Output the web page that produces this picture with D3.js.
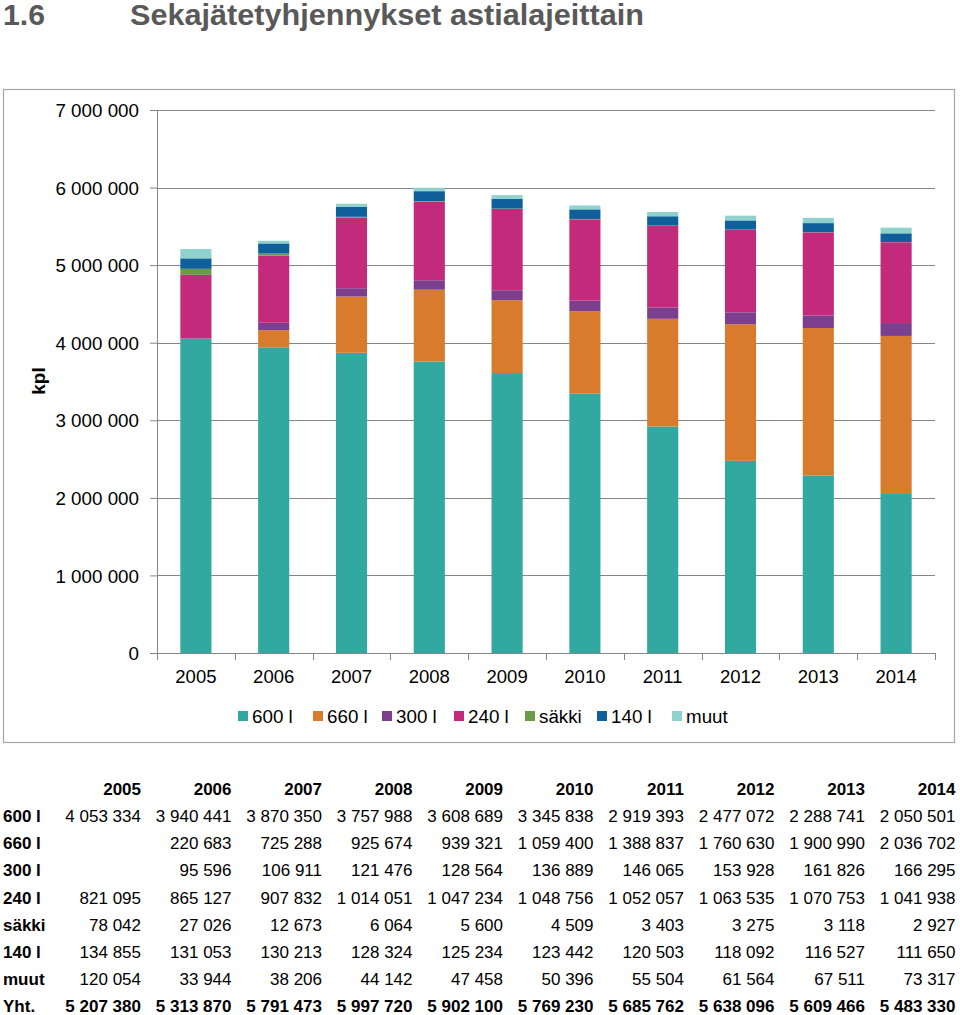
<!DOCTYPE html>
<html><head><meta charset="utf-8">
<script src="https://cdn.jsdelivr.net/npm/d3@7"></script>
<style>body{margin:0;background:#fff}svg{display:block}</style>
</head><body>
<svg id="c" width="960" height="1015"></svg>
<script>
const years = ["2005","2006","2007","2008","2009","2010","2011","2012","2013","2014"];
const seriesNames = ["600 l","660 l","300 l","240 l","säkki","140 l","muut"];
const v600 = [4053334,3940441,3870350,3757988,3608689,3345838,2919393,2477072,2288741,2050501];
const v660 = [null,220683,725288,925674,939321,1059400,1388837,1760630,1900990,2036702];
const v300 = [null,95596,106911,121476,128564,136889,146065,153928,161826,166295];
const v240 = [821095,865127,907832,1014051,1047234,1048756,1052057,1063535,1070753,1041938];
const vSakki = [78042,27026,12673,6064,5600,4509,3403,3275,3118,2927];
const v140 = [134855,131053,130213,128324,125234,123442,120503,118092,116527,111650];
const vMuut = [120054,33944,38206,44142,47458,50396,55504,61564,67511,73317];
const totals = [5207380,5313870,5791473,5997720,5902100,5769230,5685762,5638096,5609466,5483330];
const yTicks = [0,1000000,2000000,3000000,4000000,5000000,6000000,7000000];
const colors = ["#31a8a0","#d97b2c","#7b3f8e","#c42a7c","#6b9b47","#0f5f9a","#8fd1cd"];

const seriesVals = [v600,v660,v300,v240,vSakki,v140,vMuut];
const rows = years.map((y,i)=>{const o={year:y};seriesNames.forEach((s,j)=>o[s]=seriesVals[j][i]||0);return o;});
const fmt = v => v==null ? "" : d3.format(",")(v).replace(/,/g," ");

const svg = d3.select("#c");
const font = "Liberation Sans, Arial, sans-serif";

// title
svg.append("text").attr("x",3).attr("y",25).attr("font-family",font)
  .attr("font-size",29).attr("font-weight","bold").attr("fill","#595959").text("1.6")
  .attr("textLength",42).attr("lengthAdjust","spacingAndGlyphs");
svg.append("text").attr("x",130).attr("y",25).attr("font-family",font)
  .attr("font-size",29).attr("font-weight","bold").attr("fill","#595959").text("Sekajätetyhjennykset astialajeittain")
  .attr("textLength",514).attr("lengthAdjust","spacingAndGlyphs");

// chart border
svg.append("rect").attr("x",3.5).attr("y",89.5).attr("width",951).attr("height",653)
  .attr("fill","none").attr("stroke","#a6a6a6").attr("stroke-width",1.2);

const x = d3.scaleBand().domain(years).range([157,935]).paddingInner(0.6).paddingOuter(0.3);
const y = d3.scaleLinear().domain([0,7000000]).range([653,110]);

// y axis
const yAxis = d3.axisLeft(y).tickValues(yTicks).tickSize(7).tickFormat(fmt);
const gy = svg.append("g").attr("transform","translate(157,0)").call(yAxis);
gy.select(".domain").attr("stroke","#868686");
gy.selectAll(".tick line").attr("stroke","#868686");
gy.selectAll(".tick text").attr("font-family",font).attr("font-size",18.8).attr("fill","#000").attr("x",-18).attr("dy","0.35em");
svg.append("g").selectAll("line").data(yTicks.filter(d=>d>0)).join("line")
  .attr("x1",157).attr("x2",935).attr("y1",d=>Math.round(y(d))+0.5).attr("y2",d=>Math.round(y(d))+0.5)
  .attr("stroke","#868686").attr("stroke-width",1);

// bars
const stack = d3.stack().keys(seriesNames)(rows);
svg.append("g").selectAll("g").data(stack).join("g").attr("fill",(d,i)=>colors[i])
  .selectAll("rect").data(d=>d).join("rect")
  .attr("x",d=>x(d.data.year)).attr("width",x.bandwidth())
  .attr("y",d=>y(d[1])).attr("height",d=>Math.max(0,y(d[0])-y(d[1])));

// x axis
const boundaries = d3.range(years.length+1).map(i=>157+i*(778/years.length));
svg.append("line").attr("x1",157).attr("x2",935).attr("y1",653.5).attr("y2",653.5).attr("stroke","#868686");
svg.append("g").selectAll("line").data(boundaries).join("line")
  .attr("x1",d=>Math.round(d)+0.5).attr("x2",d=>Math.round(d)+0.5).attr("y1",653).attr("y2",660).attr("stroke","#868686");
svg.append("g").selectAll("text").data(years).join("text")
  .attr("x",d=>x(d)+x.bandwidth()/2).attr("y",683).attr("text-anchor","middle")
  .attr("font-family",font).attr("font-size",18.5).attr("fill","#000").text(d=>d);

// y title
svg.append("text").attr("transform","translate(45,381) rotate(-90)").attr("text-anchor","middle")
  .attr("font-family",font).attr("font-size",19).attr("font-weight","bold").text("kpl");

// legend
const legX = [238,313,382,454,525,597,672];
const lg = svg.append("g").selectAll("g").data(seriesNames).join("g")
  .attr("transform",(d,i)=>`translate(${legX[i]},716)`);
lg.append("rect").attr("x",0).attr("y",-5).attr("width",10).attr("height",10).attr("fill",(d,i)=>colors[i]);
lg.append("text").attr("x",14).attr("y",7).attr("font-family",font).attr("font-size",18.8).text(d=>d);

// table
const colRight = years.map((d,i)=>141+i*90.5);
const tableRows = [["600 l",v600],["660 l",v660],["300 l",v300],["240 l",v240],["säkki",vSakki],["140 l",v140],["muut",vMuut],["Yht.",totals]];
const tg = svg.append("g").attr("font-family",font).attr("font-size",17);
tg.selectAll("text.h").data(years).join("text").attr("class","h")
  .attr("x",(d,i)=>colRight[i]).attr("y",795).attr("text-anchor","end").attr("font-weight","bold").text(d=>d);
tableRows.forEach((r,ri)=>{
  const yy = 822 + ri*27.2;
  const bold = r[0]==="Yht.";
  tg.append("text").attr("x",3).attr("y",yy).attr("font-weight","bold").text(r[0]);
  tg.selectAll(null).data(r[1]).join("text").attr("x",(d,i)=>colRight[i]).attr("y",yy)
    .attr("text-anchor","end").attr("font-weight",bold?"bold":"normal").text(d=>fmt(d));
});
</script>
</body></html>
